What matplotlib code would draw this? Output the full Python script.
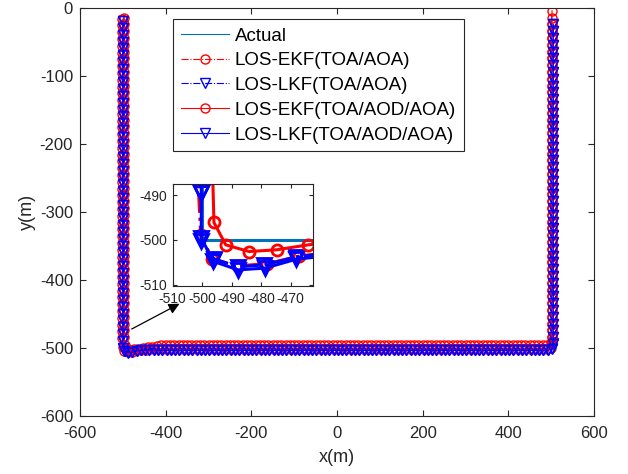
import numpy as np
import matplotlib
matplotlib.use('Agg')
import matplotlib.pyplot as plt

plt.rcParams['font.family'] = ['Liberation Sans', 'DejaVu Sans']
plt.rcParams['axes.unicode_minus'] = False

# sample positions along the straight legs (m), 10 m per step
left_y = np.arange(-10, -481, -10)      # -10 ... -480
left_y_b = np.arange(-19.5, -490, -10)  # blue filters lag a bit
bottom_x = np.arange(-400, 491, 10)
bottom_x_b = np.arange(-418, 493, 10)
right_y = np.arange(-480, -9, 10)
right_y_r = np.arange(-484, -3, 10)
right_y_b = np.arange(-484, -19, 10)

# corner points
act_c1 = [(-500, -490), (-500, -500), (-490, -500), (-480, -500), (-470, -500),
          (-460, -500), (-450, -500), (-440, -500), (-430, -500), (-420, -500), (-410, -500)]
act_c2 = [(500, -500), (500, -490)]

ekf2_c1 = [(-500.5, -499), (-496.5, -504.3), (-488, -505.8), (-478, -505.3), (-467, -503.6),
           (-457, -502.8), (-447, -502.3), (-437, -502), (-427, -501.8), (-417, -501.6), (-408, -501.5)]
ekf2_c2 = [(500, -500), (503, -492)]

lkf2_c1 = [(-500.3, -500.3), (-496, -504.2), (-488, -506.0), (-479, -505.6), (-468, -503.8),
           (-458, -503.0), (-448, -502.7), (-438, -502.6), (-428, -502.5)]
lkf2_c2 = [(502, -500), (505, -493)]

ekf3_c1 = [(-496, -496.1), (-492, -501.1), (-484.1, -502.6), (-474.7, -502.2), (-464, -501.1),
           (-453, -500.2), (-442, -499.2), (-431, -498.3), (-420, -497.3), (-410, -496.2)]
ekf3_c2 = [(499, -494), (502, -489)]

lkf3_c1 = [(-500.3, -499.6), (-496.2, -504.8), (-487.8, -506.7), (-478.7, -506.3), (-468, -504.3),
           (-458, -503.6), (-448, -503.3), (-438, -503.1), (-428, -503)]
lkf3_c2 = [(502, -501), (505, -494)]

labels = ['Actual', 'LOS-EKF(TOA/AOA)', 'LOS-LKF(TOA/AOA)',
          'LOS-EKF(TOA/AOD/AOA)', 'LOS-LKF(TOA/AOD/AOA)']


def build(lx, ly, c1, by, bx, c2, rx, ry):
    xs = [lx] * len(ly) + [p[0] for p in c1] + list(bx) + [p[0] for p in c2] + [rx] * len(ry)
    ys = list(ly) + [p[1] for p in c1] + [by] * len(bx) + [p[1] for p in c2] + list(ry)
    return np.array(xs), np.array(ys)


act = build(-500, left_y, act_c1, -500, bottom_x, act_c2, 500, right_y)
ekf2 = build(-501.5, left_y_b + 4, ekf2_c1, -501.5, bottom_x, ekf2_c2, 503, right_y_b)
lkf2 = build(-500.3, left_y_b, lkf2_c1, -502.5, bottom_x_b, lkf2_c2, 505, right_y_b)
ekf3 = build(-496.5, left_y - 4, ekf3_c1, -495, bottom_x, ekf3_c2, 502, right_y_r)
lkf3 = build(-500.3, left_y_b, lkf3_c1, -503.5, bottom_x_b, lkf3_c2, 505, right_y_b)

styles = [
    dict(color='#0072BD', linestyle='-'),
    dict(color='r', linestyle='-.', marker='o', mfc='none'),
    dict(color='b', linestyle='-.', marker='v', mfc='none'),
    dict(color='r', linestyle='-', marker='o', mfc='none'),
    dict(color='b', linestyle='-', marker='v', mfc='none'),
]
series = [act, ekf2, lkf2, ekf3, lkf3]

fig = plt.figure(figsize=(6.28, 4.74), dpi=100)
ax = fig.add_axes([80 / 628, 58 / 474, 514 / 628, 408 / 474])

for (x, y), st, lab in zip(series, styles, labels):
    ax.plot(x, y, linewidth=0.8, markersize=6.5, label=lab, **st)

ax.set_xlim(-600, 600)
ax.set_ylim(-600, 0)
ax.set_xticks(np.arange(-600, 601, 200))
ax.set_yticks(np.arange(-600, 1, 100))
ax.set_xlabel('x(m)', fontsize=13, color='#262626', labelpad=6)
ax.set_ylabel('y(m)', fontsize=13, color='#262626', labelpad=3)
ax.tick_params(direction='in', top=True, right=True, length=4, labelsize=12,
               colors='#262626', pad=5)
ax.tick_params(axis='x', pad=7)
for s in ax.spines.values():
    s.set_color('#262626')
    s.set_linewidth(0.8)

leg = ax.legend(loc='upper left', bbox_to_anchor=(0.181, 0.972), fontsize=13.5,
                fancybox=False, framealpha=1, edgecolor='#262626', handlelength=2.6,
                labelspacing=0.38, borderpad=0.4, handletextpad=0.3, borderaxespad=0,
                handleheight=0.8)
leg.get_frame().set_linewidth(0.8)

ax.annotate('', xy=(-362, -433), xytext=(-485, -474),
            arrowprops=dict(arrowstyle='-|>', color='k', lw=0.9, mutation_scale=16))

# zoomed view of the lower left corner
axin = fig.add_axes([172.7 / 628, 188 / 474, 140 / 628, 102 / 474])
for (x, y), st, lab in zip(series, styles, labels):
    ms = 9.5 if st.get('marker') == 'v' else 8
    axin.plot(x, y, linewidth=2.2, markersize=ms, markeredgewidth=2, **st)
axin.set_xlim(-510, -462.5)
axin.set_ylim(-510.3, -487.5)
axin.set_xticks([-510, -500, -490, -480, -470])
axin.set_yticks([-490, -500, -510])
axin.tick_params(direction='in', top=True, right=True, length=3, labelsize=10,
                 colors='#262626', pad=4)
for s in axin.spines.values():
    s.set_color('#262626')
    s.set_linewidth(0.8)

fig.savefig('out.png', dpi=100)
